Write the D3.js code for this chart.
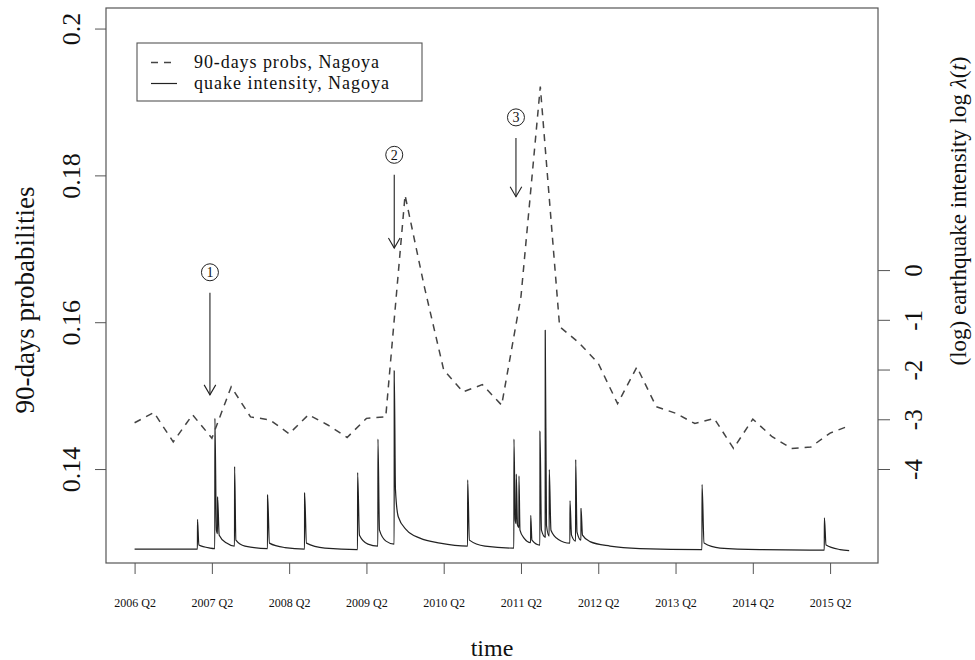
<!DOCTYPE html>
<html>
<head>
<meta charset="utf-8">
<script src="https://cdn.jsdelivr.net/npm/d3@7"></script>
<style>
  body { margin: 0; background: #fff; }
  svg text { font-family: "Liberation Serif", "DejaVu Serif", serif; fill: #111; }
</style>
</head>
<body>
<div id="chart"></div>
<script>
// 90-days probabilities, one value per quarter from 2006 Q2 to 2015 Q3
const probStart = 2006.25;
const probs = [
  0.1463, 0.1477, 0.1437, 0.1474, 0.1442, 0.1512, 0.1471, 0.1467,
  0.1448, 0.1474, 0.1460, 0.1443, 0.1469, 0.1471, 0.1773, 0.1648,
  0.1535, 0.1505, 0.1515, 0.1487, 0.1635, 0.1921, 0.1594, 0.1572,
  0.1544, 0.1489, 0.1539, 0.1485, 0.1476, 0.1462, 0.1469, 0.1428,
  0.1468, 0.1444, 0.1428, 0.1430, 0.1449, 0.1459
];

// log intensity, [time in years, log lambda]
const intensity = [
  [2006.250, -5.61], [2007.063, -5.61], [2007.064, -5.01], [2007.082, -5.53],
  [2007.225, -5.59], [2007.288, -5.60], [2007.289, -2.98], [2007.309, -5.23],
  [2007.323, -5.30], [2007.324, -4.56], [2007.345, -5.33], [2007.441, -5.49],
  [2007.543, -5.55], [2007.544, -3.95], [2007.561, -5.43], [2007.678, -5.55],
  [2007.970, -5.60], [2007.971, -4.52], [2007.995, -5.49], [2008.195, -5.58],
  [2008.449, -5.61], [2008.450, -4.48], [2008.474, -5.49], [2008.713, -5.59],
  [2009.135, -5.62], [2009.136, -4.07], [2009.160, -5.33], [2009.270, -5.51],
  [2009.398, -5.55], [2009.399, -3.40], [2009.419, -5.23], [2009.503, -5.45],
  [2009.609, -5.51], [2009.610, -2.02], [2009.626, -4.42], [2009.662, -4.96],
  [2009.771, -5.23], [2009.943, -5.39], [2010.202, -5.49], [2010.559, -5.55],
  [2010.560, -4.22], [2010.583, -5.43], [2010.784, -5.55], [2011.158, -5.59],
  [2011.159, -3.40], [2011.176, -5.03], [2011.188, -5.10], [2011.189, -4.10],
  [2011.205, -5.13], [2011.223, -5.18], [2011.224, -4.14], [2011.237, -5.23],
  [2011.289, -5.39], [2011.375, -5.48], [2011.376, -4.93], [2011.392, -5.43],
  [2011.495, -5.53], [2011.496, -3.24], [2011.515, -5.23], [2011.563, -5.37],
  [2011.564, -1.21], [2011.580, -5.13], [2011.615, -5.35], [2011.616, -4.01],
  [2011.638, -5.23], [2011.729, -5.41], [2011.883, -5.49], [2011.884, -4.64],
  [2011.904, -5.33], [2011.957, -5.45], [2011.958, -3.81], [2011.975, -5.27],
  [2012.026, -5.43], [2012.027, -4.79], [2012.046, -5.33], [2012.143, -5.46],
  [2012.402, -5.55], [2012.790, -5.60], [2013.592, -5.62], [2013.593, -4.31],
  [2013.619, -5.49], [2013.826, -5.59], [2014.344, -5.62], [2015.175, -5.63],
  [2015.176, -4.98], [2015.198, -5.53], [2015.379, -5.62], [2015.497, -5.64]
];

const xTickYears  = [2006.25, 2007.25, 2008.25, 2009.25, 2010.25, 2011.25, 2012.25, 2013.25, 2014.25, 2015.25];
const xTickLabels = ["2006 Q2", "2007 Q2", "2008 Q2", "2009 Q2", "2010 Q2", "2011 Q2", "2012 Q2", "2013 Q2", "2014 Q2", "2015 Q2"];
const probTicks = [0.14, 0.16, 0.18, 0.2];
const logTicks  = [0, -1, -2, -3, -4];

// numbered events: arrow from / to (in probability units) and label position
const eventLabels = ["1", "2", "3"];
const eventTimes  = [2007.225, 2009.610, 2011.185];
const arrowFrom   = [0.1640, 0.1801, 0.1851];
const arrowTo     = [0.1501, 0.1701, 0.1771];
const labelAt     = [0.1668, 0.1828, 0.1879];

const legendLabels = ["90-days probs, Nagoya", "quake intensity, Nagoya"];

(function() {
  const W = 975, H = 660;
  const margin = { top: 8, right: 97, bottom: 97, left: 106 };
  const x0 = margin.left, x1 = W - margin.right;
  const y0 = margin.top,  y1 = H - margin.bottom;

  const svg = d3.select("#chart").append("svg")
    .attr("width", W)
    .attr("height", H);

  const x = d3.scaleLinear().domain([2005.88, 2015.87]).range([x0, x1]);
  const yP = d3.scaleLinear().domain([0.1272, 0.2028]).range([y1, y0]);
  const yL = d3.scaleLinear().domain([-5.89, 5.27]).range([y1, y0]);

  const axisColor = "#555";

  // bottom axis
  const gx = svg.append("g")
    .attr("transform", `translate(0,${y1})`)
    .call(d3.axisBottom(x).tickValues(xTickYears).tickSize(11).tickSizeOuter(0).tickPadding(24)
      .tickFormat((d, i) => xTickLabels[i]));
  gx.select(".domain").remove();
  gx.selectAll(".tick line").attr("stroke", axisColor);
  gx.selectAll(".tick text").attr("font-size", 12).attr("fill", "#111")
    .attr("font-family", "Liberation Serif, serif");

  // left axis, labels rotated like R
  const gy = svg.append("g")
    .attr("transform", `translate(${x0},0)`)
    .call(d3.axisLeft(yP).tickValues(probTicks).tickSize(11).tickFormat(d => String(d)));
  gy.select(".domain").remove();
  gy.selectAll(".tick line").attr("stroke", axisColor);
  gy.selectAll(".tick text")
    .attr("x", null).attr("dy", null)
    .attr("transform", "translate(-26,0) rotate(-90)")
    .attr("text-anchor", "middle")
    .attr("font-size", 26).attr("fill", "#111")
    .attr("font-family", "Liberation Serif, serif");

  // right axis
  const gr = svg.append("g")
    .attr("transform", `translate(${x1},0)`)
    .call(d3.axisRight(yL).tickValues(logTicks).tickSize(12).tickFormat(d => String(d)));
  gr.select(".domain").remove();
  gr.selectAll(".tick line").attr("stroke", axisColor);
  gr.selectAll(".tick text")
    .attr("x", null).attr("dy", null)
    .attr("transform", "translate(44,0) rotate(-90)")
    .attr("text-anchor", "middle")
    .attr("font-size", 25).attr("fill", "#111")
    .attr("font-family", "Liberation Serif, serif");

  // plot box
  svg.append("rect")
    .attr("x", x0).attr("y", y0)
    .attr("width", x1 - x0).attr("height", y1 - y0)
    .attr("fill", "none").attr("stroke", axisColor).attr("stroke-width", 1.2);

  // intensity (solid)
  svg.append("path")
    .datum(intensity)
    .attr("fill", "none")
    .attr("stroke", "#222")
    .attr("stroke-width", 1.2)
    .attr("stroke-linejoin", "round")
    .attr("d", d3.line().curve(d3.curveMonotoneX).x(d => x(d[0])).y(d => yL(d[1])));

  // probabilities (dashed)
  svg.append("path")
    .datum(probs)
    .attr("fill", "none")
    .attr("stroke", "#444")
    .attr("stroke-width", 1.5)
    .attr("stroke-dasharray", "7,6")
    .attr("d", d3.line().x((d, i) => x(probStart + i * 0.25)).y(d => yP(d)));

  // event arrows with circled numbers
  eventLabels.forEach((lab, i) => {
    const ex = x(eventTimes[i]);
    const ya = yP(arrowFrom[i]), yb = yP(arrowTo[i]);
    const g = svg.append("g").attr("stroke", "#222").attr("stroke-width", 1.1).attr("fill", "none");
    g.append("line").attr("x1", ex).attr("x2", ex).attr("y1", ya).attr("y2", yb);
    g.append("path").attr("d", `M${ex - 5.8},${yb - 10}L${ex},${yb}L${ex + 5.8},${yb - 10}`);
    const ly = yP(labelAt[i]);
    g.append("circle").attr("cx", ex).attr("cy", ly).attr("r", 8.5).attr("stroke-width", 1);
    svg.append("text")
      .attr("x", ex).attr("y", ly + 5)
      .attr("text-anchor", "middle")
      .attr("font-size", 14)
      .text(lab);
  });

  // legend
  const lg = svg.append("g");
  lg.append("rect")
    .attr("x", 137).attr("y", 43).attr("width", 285).attr("height", 58)
    .attr("fill", "#fff").attr("stroke", axisColor).attr("stroke-width", 1.1);
  lg.append("line").attr("x1", 151).attr("x2", 177).attr("y1", 62.5).attr("y2", 62.5)
    .attr("stroke", "#444").attr("stroke-width", 1.5).attr("stroke-dasharray", "7,6");
  lg.append("line").attr("x1", 151).attr("x2", 177).attr("y1", 83.5).attr("y2", 83.5)
    .attr("stroke", "#222").attr("stroke-width", 1.2);
  const legendWidths = [185, 195];
  lg.selectAll("text.leg")
    .data(legendLabels)
    .join("text")
    .attr("class", "leg")
    .attr("x", 194)
    .attr("y", (d, i) => 67.5 + i * 21)
    .attr("font-size", 18)
    .attr("textLength", (d, i) => legendWidths[i])
    .text(d => d);

  // axis titles
  svg.append("text")
    .attr("transform", "translate(34,300) rotate(-90)")
    .attr("text-anchor", "middle")
    .attr("font-size", 27)
    .text("90-days probabilities");

  const rt = svg.append("text")
    .attr("transform", "translate(966,211) rotate(-90)")
    .attr("text-anchor", "middle")
    .attr("font-size", 23);
  rt.append("tspan").text("(log) earthquake intensity log ");
  rt.append("tspan").attr("font-style", "italic").text("λ");
  rt.append("tspan").text("(");
  rt.append("tspan").attr("font-style", "italic").text("t");
  rt.append("tspan").text(")");

  svg.append("text")
    .attr("x", (x0 + x1) / 2).attr("y", 656)
    .attr("text-anchor", "middle")
    .attr("font-size", 24)
    .text("time");
})();
</script>
</body>
</html>
